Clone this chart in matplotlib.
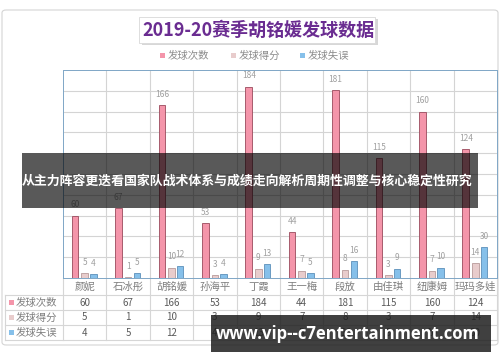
import matplotlib
matplotlib.use("Agg")
import matplotlib.pyplot as plt
import matplotlib.transforms as mtransforms
from matplotlib.patches import Rectangle, FancyBboxPatch
import numpy as np

plt.rcParams['font.family'] = ['Noto Sans CJK SC', 'DejaVu Sans']

players = ["颜妮", "石冰彤", "胡铭媛", "孙海平", "丁霞", "王一梅", "段放", "由佳琪", "纽康姆", "玛玛多娃"]
serves = [60, 67, 166, 53, 184, 44, 181, 115, 160, 124]
points = [5, 1, 10, 3, 9, 7, 8, 3, 7, 14]
errors = [4, 5, 12, 4, 13, 5, 16, 9, 10, 30]
series_names = ["发球次数", "发球得分", "发球失误"]
title = "2019-20赛季胡铭媛发球数据"
banner = "从主力阵容更迭看国家队战术体系与成绩走向解析周期性调整与核心稳定性研究"
watermark = "www.vip--c7entertainment.com"

colors = ["#F495AA", "#E8CCCC", "#86C0EA"]
edges = ["#9A4A5C", "#B89A9A", "#5C90BA"]
W, H = 500, 362


def fx(x):
    return x / W


def fy(y):
    return 1 - y / H


fig = plt.figure(figsize=(5, 3.62), dpi=100)
fig.patch.set_facecolor("white")

# outer chart frame (behind everything)
fig.patches.append(FancyBboxPatch((fx(2), fy(345)), fx(496), 335 / H,
                                  boxstyle="round,pad=0,rounding_size=0.008",
                                  transform=fig.transFigure, fc="none", ec="#D4D4D4",
                                  lw=0.8, zorder=-5))

ax = fig.add_axes([fx(63), fy(278), fx(434), 208 / H])
ax.set_xlim(-0.5, len(players) - 0.5)
ax.set_ylim(0, 200)
ax.patch.set_alpha(0)
for s in ax.spines.values():
    s.set_linestyle((0, (1, 1)))
    s.set_color("#7FA6C6")
    s.set_linewidth(0.7)
ax.set_xticks([])
ax.set_yticks([])
for yv in range(20, 200, 20):
    ax.axhline(yv, color="#D4D4D4", lw=0.8, zorder=0)
for xb in np.arange(0.5, len(players) - 0.5, 1):
    ax.axvline(xb, color="#D4D4D4", lw=0.8, zorder=0)

x = np.arange(len(players))
offsets = [-0.22, 0.0, 0.2]
for vals, off, c, e in zip([serves, points, errors], offsets, colors, edges):
    ax.bar(x + off, vals, width=0.15, color=c, edgecolor=e, lw=0.6, zorder=3)
    for xi, v in zip(x, vals):
        ax.text(xi + off, v + 6, str(v), ha="center", va="bottom",
                fontsize=6, color="#A0A0A0", zorder=4)

# title box
fig.patches.append(Rectangle((fx(142), fy(45)), fx(236), 26 / H, transform=fig.transFigure,
                             fc="#BDBDBD", ec="none", alpha=0.6, zorder=5))
fig.patches.append(Rectangle((fx(139), fy(43)), fx(236), 26 / H, transform=fig.transFigure,
                             fc="white", ec="#D8D8D8", lw=0.6, zorder=5))
fig.text(fx(258), fy(30), title, ha="center", va="center", fontsize=13,
         fontweight="bold", color="#6A2C91", zorder=6)

# legend
for name, c, lx in zip(series_names, colors, [160, 231, 300]):
    fig.patches.append(Rectangle((fx(lx), fy(58)), fx(5), 5 / H, transform=fig.transFigure,
                                 fc=c, ec="none"))
    fig.text(fx(lx + 8), fy(55.5), name, ha="left", va="center", fontsize=7.5, color="#8C8C8C")

# data table under the plot
bt = mtransforms.blended_transform_factory(ax.transData, fig.transFigure)
grid_c = "#D6D6D6"
row_bounds = [295, 310, 325, 340]
for yb in row_bounds:
    fig.add_artist(plt.Line2D([fx(5), fx(497)], [fy(yb), fy(yb)], color=grid_c, lw=0.8))
fig.add_artist(plt.Line2D([fx(5), fx(5)], [fy(295), fy(340)], color=grid_c, lw=0.8))
for xb in np.arange(-0.5, len(players), 1):
    ax.add_artist(plt.Line2D([xb, xb], [fy(278), fy(340)], transform=bt, color=grid_c,
                             lw=0.8, clip_on=False))
for xi, name in zip(x, players):
    ax.text(xi, fy(287), name, transform=bt, ha="center", va="center",
            fontsize=7.5, color="#7F7F7F")
for r, (vals, name, c) in enumerate(zip([serves, points, errors], series_names, colors)):
    yc = 302.5 + 15 * r
    fig.patches.append(Rectangle((fx(9), fy(yc + 2.5)), fx(5), 5 / H, transform=fig.transFigure,
                                 fc=c, ec="none"))
    fig.text(fx(16), fy(yc), name, ha="left", va="center", fontsize=7.5, color="#7F7F7F")
    for xi, v in zip(x, vals):
        ax.text(xi, fy(yc), str(v), transform=bt, ha="center", va="center",
                fontsize=7, color="#5A5A5A")

# overlay banner
fig.add_artist(Rectangle((fx(22), fy(208)), fx(456), 55 / H, transform=fig.transFigure,
                         fc="#000000", ec="none", alpha=0.65, zorder=10))
fig.text(fx(247), fy(181), banner, ha="center", va="center", fontsize=9.3,
         fontweight="bold", color="white", zorder=11)

# watermark
fig.add_artist(Rectangle((fx(211), fy(352)), fx(280), 37 / H, transform=fig.transFigure,
                         fc="#1E1E1E", ec="none", alpha=0.85, zorder=10))
fig.text(fx(348), fy(334), watermark, ha="center", va="center", fontsize=12,
         fontweight="bold", color="white", family=["Open Sans", "DejaVu Sans"], zorder=11)

fig.savefig("out.png", dpi=100)
